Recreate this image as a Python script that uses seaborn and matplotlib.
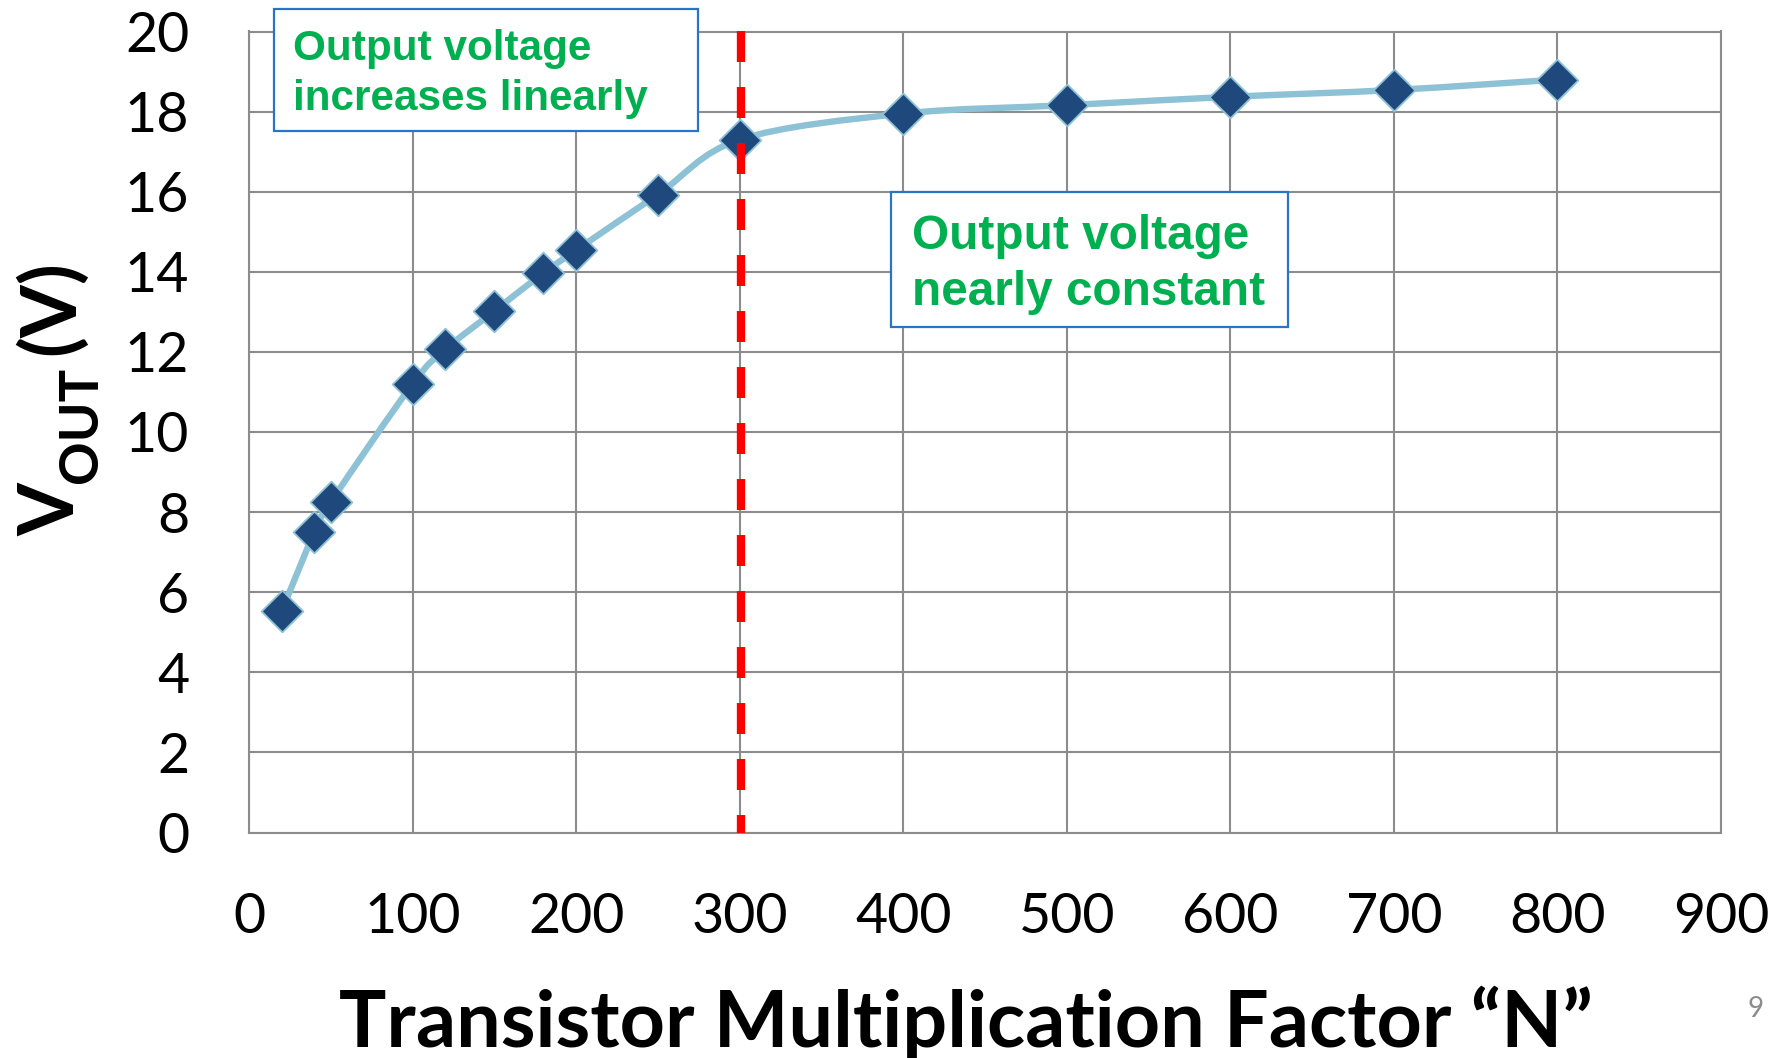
import numpy as np
import matplotlib
matplotlib.use("Agg")
import matplotlib.pyplot as plt
from matplotlib.path import Path
from matplotlib.patches import PathPatch, Rectangle
import seaborn as sns

# Measured output voltage versus transistor multiplication factor
N = [20, 40, 50, 100, 120, 150, 180, 200, 250, 300, 400, 500, 600, 700, 800]
VOUT = [5.53, 7.50, 8.25, 11.20, 12.06, 13.02, 13.97, 14.54, 15.93, 17.30,
        17.95, 18.16, 18.37, 18.54, 18.80]

X_TICKS = [0, 100, 200, 300, 400, 500, 600, 700, 800, 900]
Y_TICKS = [0, 2, 4, 6, 8, 10, 12, 14, 16, 18, 20]
N_SPLIT = 301

X_LABEL = "Transistor Multiplication Factor \u201cN\u201d"
Y_LABEL_MAIN = "V"
Y_LABEL_SUB = "OUT"
Y_LABEL_UNIT = "(V)"
NOTE_LEFT = ["Output voltage", "increases linearly"]
NOTE_RIGHT = ["Output voltage", "nearly constant"]
PAGE = "9"

LINE_COLOR = "#8DC1D5"
MARKER_COLOR = "#1F497D"
GRID_COLOR = "#8C8C8C"
NOTE_GREEN = "#00B050"
NOTE_EDGE = "#2874C5"

sns.set_theme(style="whitegrid")
plt.rcParams["font.family"] = ["Lato", "DejaVu Sans"]

W, H = 1789, 1058
fig = plt.figure(figsize=(W / 100, H / 100), dpi=100)
fig.patch.set_facecolor("white")
ax = fig.add_axes([249 / W, 1 - 832.5 / H, (1721 - 249) / W, (832.5 - 31.5) / H])
ax.set_facecolor("white")


def smooth_path(xs, ys):
    """Cubic Bezier path through the points (Catmull-Rom style tangents)."""
    pts = np.column_stack([xs, ys]).astype(float)
    n = len(pts)
    verts = [pts[0]]
    codes = [Path.MOVETO]
    for i in range(n - 1):
        p0 = pts[i - 1] if i > 0 else pts[i]
        p1 = pts[i]
        p2 = pts[i + 1]
        p3 = pts[i + 2] if i + 2 < n else pts[i + 1]
        verts += [p1 + (p2 - p0) / 6.0, p2 - (p3 - p1) / 6.0, p2]
        codes += [Path.CURVE4] * 3
    return Path(verts, codes)


# smoothed trend line
ax.add_patch(PathPatch(smooth_path(N, VOUT), facecolor="none", edgecolor=LINE_COLOR,
                       linewidth=4.6, capstyle="round", joinstyle="round", zorder=3))

# measured points
sns.scatterplot(x=N, y=VOUT, marker="D", s=450, color=MARKER_COLOR,
                edgecolor=LINE_COLOR, linewidth=1.3, zorder=4, ax=ax, legend=False)

# boundary between the two regions
ax.plot([N_SPLIT, N_SPLIT], [20, 0], color="#FF0000", linewidth=6,
        dashes=(3.72, 3.0), dash_capstyle="butt", zorder=5, clip_on=False)

ax.set_xlim(0, 900)
ax.set_ylim(0, 20)
ax.set_xticks(X_TICKS)
ax.set_yticks(Y_TICKS)
ax.set_xlabel("")
ax.set_ylabel("")
ax.grid(True, color=GRID_COLOR, linewidth=1.5)
ax.set_axisbelow(True)
for sp in ax.spines.values():
    sp.set_color(GRID_COLOR)
    sp.set_linewidth(1.5)
ax.tick_params(axis="both", length=0, pad=43, labelsize=40, labelcolor="black")

# axis titles
fig.text(966 / W, 11 / H, X_LABEL, ha="center", va="baseline",
         fontsize=57, fontweight="bold", color="black")
fig.text(74 / W, 522 / H, Y_LABEL_MAIN, rotation=90, rotation_mode="anchor",
         ha="left", va="baseline", fontsize=55, fontweight="bold", color="black")
fig.text(97 / W, 575 / H, Y_LABEL_SUB, rotation=90, rotation_mode="anchor",
         ha="left", va="baseline", fontsize=39, fontweight="bold", color="black")
fig.text(74 / W, 703 / H, Y_LABEL_UNIT, rotation=90, rotation_mode="anchor",
         ha="left", va="baseline", fontsize=55, fontweight="bold", color="black")


def note(box, lines, baselines, x_text, size):
    x0, y0, x1, y1 = box
    fig.add_artist(Rectangle((x0 / W, 1 - y1 / H), (x1 - x0) / W, (y1 - y0) / H,
                             transform=fig.transFigure, facecolor="white",
                             edgecolor=NOTE_EDGE, linewidth=1.6, zorder=6))
    for line, yb in zip(lines, baselines):
        fig.text(x_text / W, 1 - yb / H, line, ha="left", va="baseline",
                 fontsize=size, fontweight="bold", color=NOTE_GREEN,
                 family=["Liberation Sans", "DejaVu Sans"], zorder=7)


note((274, 9, 698, 131), NOTE_LEFT, (60, 110), 293, 30.4)
note((891, 192, 1288, 327), NOTE_RIGHT, (249, 305), 912, 34.4)

fig.text(1756 / W, 41 / H, PAGE, ha="center", va="baseline", fontsize=20,
         color="#8C8C8C")

fig.savefig("out.png", dpi=100, facecolor="white")
